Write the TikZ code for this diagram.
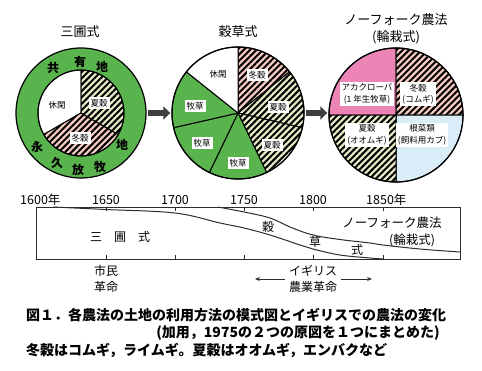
\documentclass[tikz,border=0pt]{standalone}
\usepackage{fontspec}
\setmainfont{Noto Sans CJK JP}
\usetikzlibrary{patterns.meta,arrows.meta}
\definecolor{grn}{RGB}{90,180,78}
\definecolor{hpink}{RGB}{244,202,192}
\definecolor{hyel}{RGB}{228,232,196}
\definecolor{clover}{RGB}{236,132,182}
\definecolor{lblue}{RGB}{218,236,248}
\definecolor{agray}{RGB}{62,62,62}
\definecolor{lgray}{RGB}{45,45,45}
\newcommand\sect[5]{\path[#5] (#1) -- ++(#2:#4) arc[start angle=#2,end angle=#3,radius=#4] -- cycle;}
\begin{document}
\begin{tikzpicture}[x=1bp,y=-1bp,
  title/.style={font=\fontsize{13bp}{16bp}\selectfont, align=center, inner sep=0pt},
  lab/.style={fill=white, font=\fontsize{8.5bp}{11.5bp}\selectfont, inner sep=2bp, align=center},
  ring/.style={font=\fontsize{12bp}{12bp}\selectfont\bfseries, inner sep=0pt},
  yr/.style={font=\fontsize{12.5bp}{14bp}\selectfont, inner sep=0pt},
  tt/.style={font=\fontsize{12bp}{16bp}\selectfont, inner sep=0pt, align=center},
  captext/.style={font=\fontsize{14bp}{16bp}\selectfont\bfseries, inner sep=0pt, anchor=west},
  bigarrow/.style={line width=6bp, draw=agray, -{Triangle[length=7bp,width=13bp]}, shorten <=1.5bp, shorten >=1.5bp},
  hp/.style={preaction={fill=hpink}, pattern={Lines[angle=45,distance=4.5bp,line width=2bp]}, pattern color=black, draw=black, line width=1bp},
  hy/.style={preaction={fill=hyel}, pattern={Lines[angle=45,distance=4.5bp,line width=2bp]}, pattern color=black, draw=black, line width=1bp},
  plain/.style={draw=black, line width=1bp},
  tl/.style={draw=lgray, line width=1bp}
]
\useasboundingbox (0,0) rectangle (482,370);

% ---------- circle 1: three-field ----------
\coordinate (Lc) at (81,113);
\node[circle, minimum size=130bp, inner sep=0pt, fill=grn, draw=black, line width=1.2bp] (L) at (Lc) {};
\sect{Lc}{-90}{-210}{43}{fill=white, plain}
\sect{Lc}{-210}{-330}{43}{hp}
\sect{Lc}{-330}{-450}{43}{hy}
\draw[plain] (Lc) circle[radius=43];
\node[title] (t1) at (80,32) {三圃式};
\node[lab, fill=none] (l1a) at (57,105) {休閑};
\node[lab] (l1b) at (99,103) {夏穀};
\node[lab] (l1c) at (80,138) {冬穀};
\node[ring] (r1) at (53,68) {共};
\node[ring] (r2) at (80,62) {有};
\node[ring] (r3) at (102,67) {地};
\node[ring] (r4) at (122,145) {地};
\node[ring] (r5) at (100,167) {牧};
\node[ring] (r6) at (78,170) {放};
\node[ring] (r7) at (57,163) {久};
\node[ring] (r8) at (37,147) {永};

% ---------- circle 2: grain-grass ----------
\coordinate (Mc) at (238,113);
\node[circle, minimum size=132bp, inner sep=0pt] (M) at (Mc) {};
\sect{Mc}{-90}{-38.571}{66}{hp}
\sect{Mc}{-38.571}{12.857}{66}{hy}
\sect{Mc}{12.857}{64.286}{66}{hy}
\sect{Mc}{64.286}{115.714}{66}{fill=grn, plain}
\sect{Mc}{115.714}{167.143}{66}{fill=grn, plain}
\sect{Mc}{167.143}{218.571}{66}{fill=grn, plain}
\sect{Mc}{218.571}{270}{66}{fill=white, plain}
\draw[draw=black, line width=1.2bp] (Mc) circle[radius=66];
\node[title] (t2) at (238,32) {穀草式};
\node[lab] (m1) at (218,74) {休閑};
\node[lab] (m2) at (257,75) {冬穀};
\node[lab] (m3) at (278,107) {夏穀};
\node[lab] (m4) at (272,145) {夏穀};
\node[lab] (m5) at (195,106) {牧草};
\node[lab] (m6) at (202,143) {牧草};
\node[lab] (m7) at (238,163) {牧草};

% ---------- circle 3: Norfolk ----------
\coordinate (Rc) at (396,115);
\node[circle, minimum size=134bp, inner sep=0pt] (R) at (Rc) {};
\sect{Rc}{180}{270}{67}{fill=clover, plain}
\sect{Rc}{270}{360}{67}{hp}
\sect{Rc}{0}{90}{67}{fill=lblue, plain}
\sect{Rc}{90}{180}{67}{hy}
\draw[draw=black, line width=1.2bp] (Rc) circle[radius=67];
\node[title] (t3) at (396,20) {ノーフォーク農法};
\node[title] (t3b) at (396,37) {(輪栽式)};
\node[lab] (n1) at (367,94) {アカクローバ\\(1 年生牧草)};
\node[lab] (n2) at (418,94) {冬穀\\(コムギ)};
\node[lab] (n3) at (367,135) {夏穀\\(オオムギ)};
\node[lab] (n4) at (422,135) {根菜類\\(飼料用カブ)};

% ---------- arrows between circles ----------
\draw[bigarrow] (L.east) -- (L.east -| M.west);
\draw[bigarrow] (M.east) -- (M.east -| R.west);

% ---------- timeline ----------
\draw[tl] (36,207) rectangle (460,259);
\foreach \x in {106,175,244,313,383} {
  \draw[tl] (\x,207) -- (\x,211);
  \draw[tl] (\x,259) -- (\x,255);
}
\node[yr, anchor=west] (y0) at (20,200) {1600年};
\node[yr] (y1) at (106,200) {1650};
\node[yr] (y2) at (175,200) {1700};
\node[yr] (y3) at (244,200) {1750};
\node[yr] (y4) at (313,200) {1800};
\node[yr, anchor=west] (y5) at (366,200) {1850年};
\draw[tl] plot[smooth, tension=0.6] coordinates {(53,207) (106,209.5) (175,213) (220,223) (244,228) (270,235) (300,245) (313,249) (340,255) (370,258) (383,259)};
\draw[tl] plot[smooth, tension=0.6] coordinates {(218,207) (244,212) (270,218) (290,227) (313,235) (340,239.5) (370,243) (383,245) (420,249) (460,252)};
\node[tt] (s3) at (120,237) {三\hspace{12bp}圃\hspace{12bp}式};
\node[tt] (k1) at (268,227) {穀};
\node[tt] (k2) at (315,242) {草};
\node[tt] (k3) at (357,250) {式};
\node[tt, font=\fontsize{12.5bp}{16bp}\selectfont] (nf) at (392,223) {ノーフォーク農法};
\node[tt, font=\fontsize{12.5bp}{16bp}\selectfont] (nf2) at (412,240) {(輪栽式)};
\node[tt, align=left] (cr) at (106,278.5) {市民\\革命};
\node[tt] (ag) at (313,278.5) {イギリス\\農業革命};
\coordinate (agL) at (255,279);
\coordinate (agR) at (372,279);
\draw[tl, -{Stealth[length=5bp,width=4bp]}] (ag.west |- agL) ++(-4bp,0) -- (agL);
\draw[tl, -{Stealth[length=5bp,width=4bp]}] (ag.east |- agR) ++(4bp,0) -- (agR);

% ---------- caption ----------
\node[captext] (c1) at (26,315) {図１．各農法の土地の利用方法の模式図とイギリスでの農法の変化};
\node[captext, anchor=center] (c2) at (298,333) {(加用，1975の２つの原図を１つにまとめた)};
\node[captext] (c3) at (26,350) {冬穀はコムギ，ライムギ。夏穀はオオムギ，エンバクなど};
\end{tikzpicture}
\end{document}
